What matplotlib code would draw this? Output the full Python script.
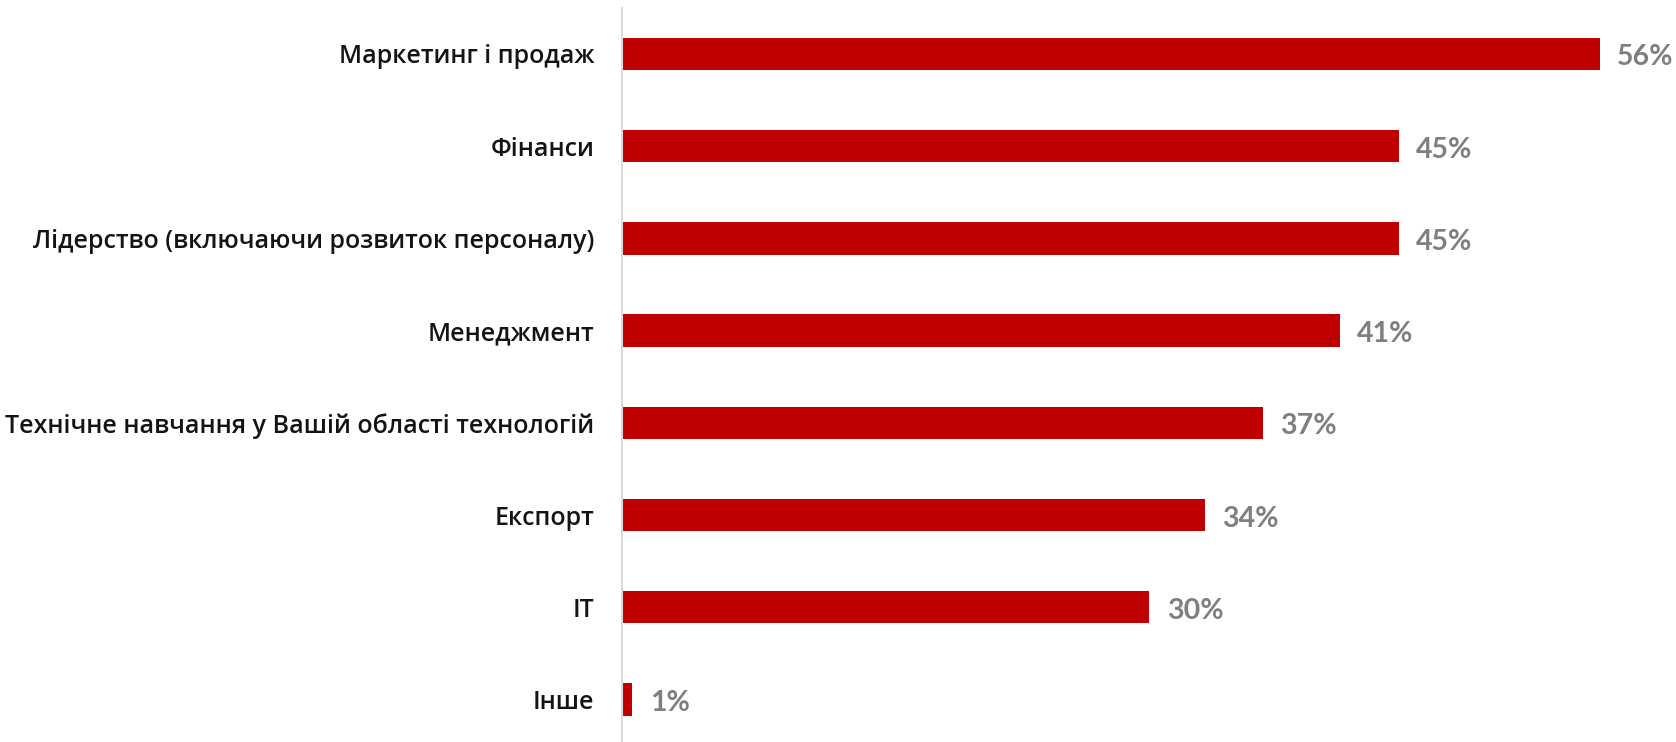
import matplotlib
matplotlib.use("Agg")
import matplotlib.pyplot as plt

plt.rcParams['font.family'] = ['Open Sans', 'DejaVu Sans']

# Дані з графіка (зверху вниз)
categories = [
    'Маркетинг і продаж',
    'Фінанси',
    'Лідерство (включаючи розвиток персоналу)',
    'Менеджмент',
    'Технічне навчання у Вашій області технологій',
    'Експорт',
    'IT',
    'Інше',
]
values = [56.0, 44.5, 44.5, 41.1, 36.7, 33.4, 30.2, 0.6]
value_labels = ['56%', '45%', '45%', '41%', '37%', '34%', '30%', '1%']

fig = plt.figure(figsize=(16.76, 7.42), dpi=100)
ax = fig.add_axes([0.3711, -0.0049, 0.625, 0.9944])

pos = list(range(len(categories)))
ax.barh(pos, values, height=0.35, color='#C00000')

# Підписи значень праворуч від смуг
for p, v, lab in zip(pos, values, value_labels):
    ax.annotate(lab, xy=(v, p), xytext=(12.5, -2.5), textcoords='offset points',
                va='center', ha='left', fontsize=20.5, fontweight='bold',
                family=['Lato', 'DejaVu Sans'], color='#7F7F7F')

ax.set_yticks(pos)
ax.set_yticklabels(categories, fontsize=18, fontweight='semibold', color='#141414')
ax.tick_params(axis='y', length=0, pad=20)
ax.set_xticks([])
ax.set_xlim(0, 60)
ax.set_ylim(len(categories) - 0.5, -0.5)

for s in ['top', 'right', 'bottom']:
    ax.spines[s].set_visible(False)
ax.spines['left'].set_color('#D9D9D9')
ax.spines['left'].set_linewidth(1.5)

fig.savefig('out.png', dpi=100)
